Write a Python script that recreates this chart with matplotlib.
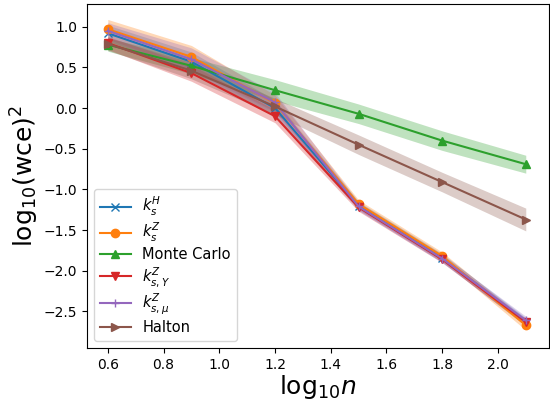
import matplotlib
matplotlib.use("Agg")
import matplotlib.pyplot as plt
import numpy as np

log_n = [0.6, 0.9, 1.2, 1.5, 1.8, 2.1]

labels = [r"$k_s^H$", r"$k_s^Z$", "Monte Carlo", r"$k_{s,Y}^Z$", r"$k_{s,\mu}^Z$", "Halton"]

kH = [0.92, 0.57, 0.00, -1.20, -1.84, -2.63]
kZ = [0.97, 0.63, 0.06, -1.18, -1.82, -2.67]
mc = [0.78, 0.52, 0.22, -0.07, -0.40, -0.69]
kY = [0.80, 0.43, -0.10, -1.22, -1.86, -2.63]
kmu = [0.95, 0.60, 0.07, -1.21, -1.85, -2.61]
halton = [0.79, 0.46, 0.02, -0.45, -0.91, -1.37]

kH_err = [0.10, 0.12, 0.10, 0.05, 0.05, 0.05]
kZ_err = [0.12, 0.14, 0.10, 0.05, 0.05, 0.06]
mc_err = [0.08, 0.10, 0.13, 0.12, 0.12, 0.11]
kY_err = [0.08, 0.10, 0.08, 0.05, 0.04, 0.04]
kmu_err = [0.10, 0.14, 0.12, 0.05, 0.05, 0.05]
halton_err = [0.08, 0.10, 0.10, 0.12, 0.12, 0.14]

series = [kH, kZ, mc, kY, kmu, halton]
errs = [kH_err, kZ_err, mc_err, kY_err, kmu_err, halton_err]
markers = ["x", "o", "^", "v", "+", ">"]
colors = ["C0", "C1", "C2", "C3", "C4", "C5"]

fig = plt.figure(figsize=(5.5, 4), dpi=100)
ax = fig.add_axes([0.158, 0.13, 0.84, 0.86])

x = np.array(log_n)
for y, e, m, c, lab in zip(series, errs, markers, colors, labels):
    y = np.array(y); e = np.array(e)
    ax.plot(x, y, marker=m, color=c, label=lab)
    ax.fill_between(x, y - e, y + e, color=c, alpha=0.3, linewidth=0)

ax.set_xlim(0.525, 2.183)
ax.set_ylim(-2.95, 1.28)
ax.set_xlabel(r"$\mathrm{log}_{10}n$", fontsize=18, labelpad=1)
ax.set_ylabel(r"$\mathrm{log}_{10}(\mathrm{wce})^2$", fontsize=18, labelpad=2)
ax.legend(loc="lower left", fontsize=10.5, labelspacing=0.2, handlelength=2.1)

fig.savefig("out.png", dpi=100)
